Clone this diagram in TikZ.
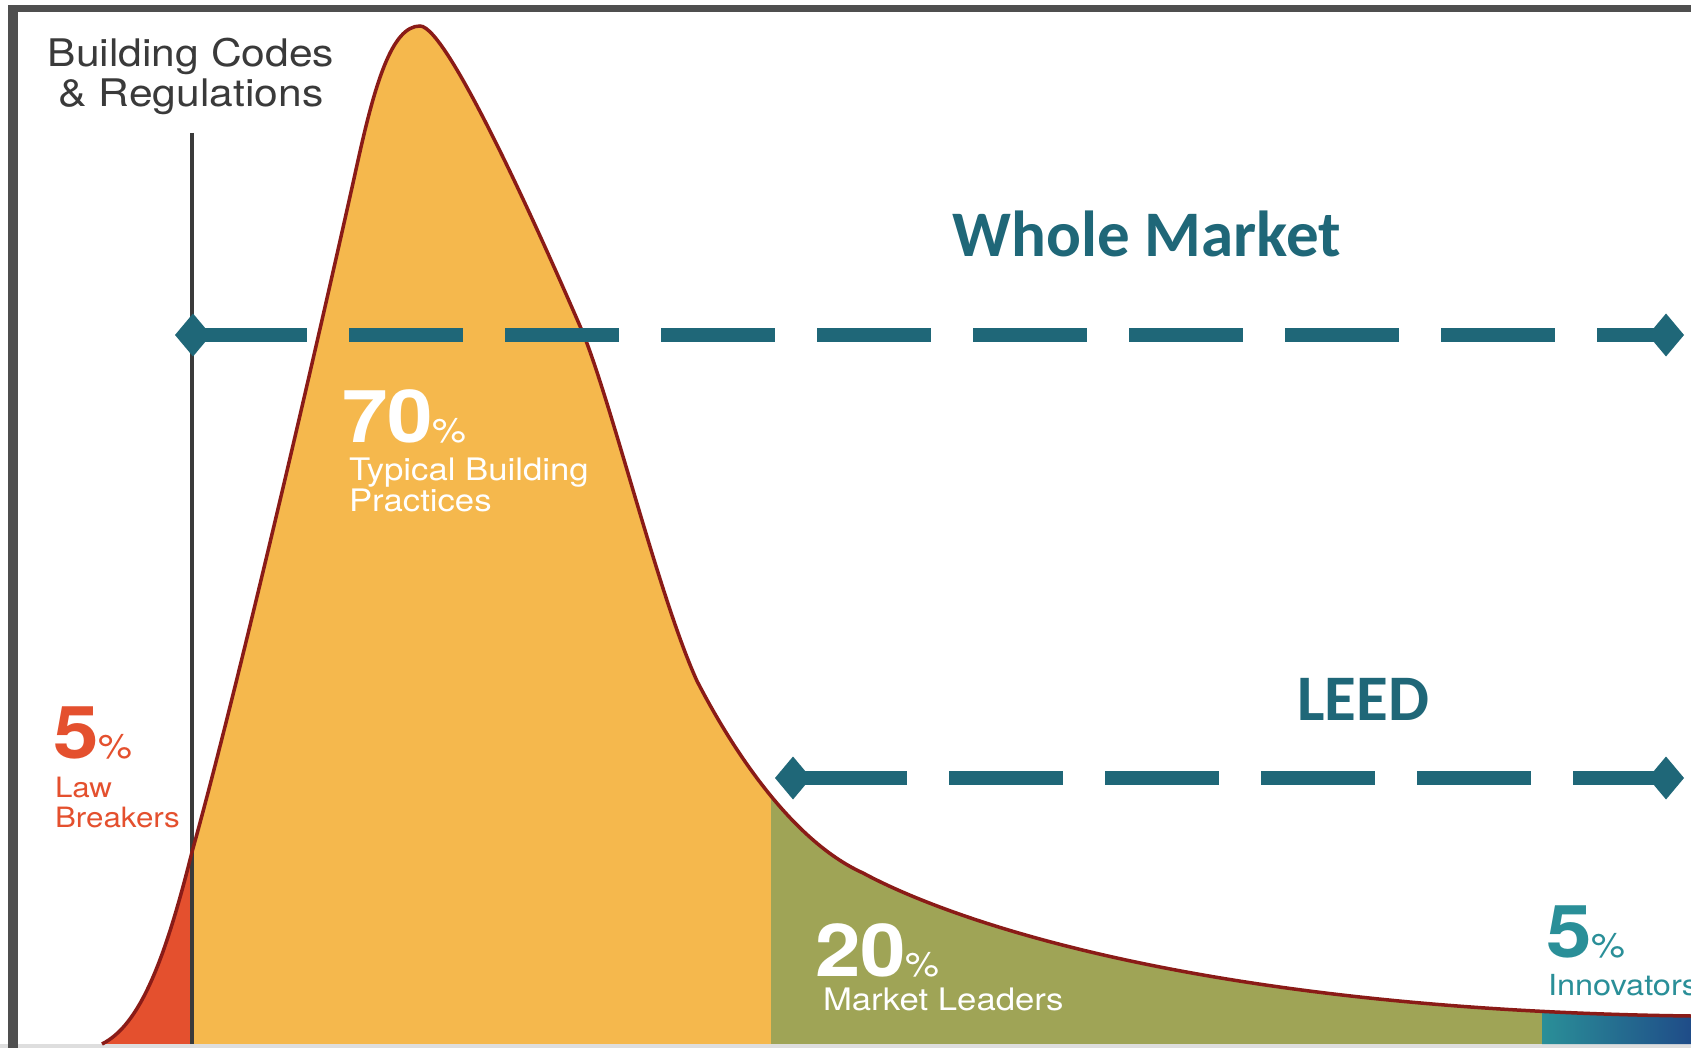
\documentclass[tikz,border=0pt]{standalone}
\usepackage{fontspec}
\setmainfont[FakeStretch=1.12]{TeX Gyre Heros}
\newfontfamily\headfont{Carlito}
\usetikzlibrary{shapes.geometric,positioning}

\definecolor{framegray}{HTML}{4F4F4F}
\definecolor{codegray}{HTML}{3A3A3A}
\definecolor{lawred}{HTML}{E4502E}
\definecolor{typorange}{HTML}{F5B84D}
\definecolor{leadgreen}{HTML}{9FA456}
\definecolor{innovteal}{HTML}{2A8F98}
\definecolor{innovblue}{HTML}{1F4C88}
\definecolor{curvered}{HTML}{8A1B17}
\definecolor{markteal}{HTML}{1F6778}

\newcommand{\pct}{{\fontsize{34}{34}\selectfont\mdseries\%}}
% the bell curve, left foot to right edge
\newcommand{\bellcurve}{(102,1044)
    .. controls (140,1025) and (165,960) .. (192,852)
    .. controls (240,680) and (325,310) .. (357,165)
    .. controls (375,83) and (392,26) .. (420,26)
    .. controls (448,26) and (545,245) .. (583,333)
    .. controls (613,408) and (660,600) .. (697,681)
    .. controls (730,745) and (790,840) .. (863,873)
    .. controls (950,920) and (1200,1010) .. (1691,1016)}

\begin{document}
\begin{tikzpicture}[x=1pt,y=-1pt,
    bignum/.style={anchor=base west, font=\fontsize{73}{73}\selectfont\bfseries},
    caption/.style={anchor=base west, align=left, font=\fontsize{31}{28}\selectfont},
    tipdiamond/.style={diamond, fill=markteal, minimum width=36pt, minimum height=43pt},
    dashline/.style={markteal, line width=14pt, dash pattern=on 114pt off 42pt},
    heading/.style={font=\headfont\bfseries\fontsize{65}{65}\selectfont, text=markteal}]
    \tikzstyle{every node}=[inner sep=0pt, outer sep=0pt]
    \path[use as bounding box, clip] (0,0) rectangle (1691,1048);
    \fill[white] (0,0) rectangle (1691,1048);
    \fill[black!13] (0,1044) rectangle (1691,1048);
    % frame
    \fill[framegray] (8,5) rectangle (1691,12);
    \fill[framegray] (8,5) rectangle (18,1048);
    % areas under the curve
    \begin{scope}
        \clip \bellcurve -- (1691,1044) -- (102,1044) -- cycle;
        \fill[lawred] (0,0) rectangle (192,1044);
        \fill[typorange] (192,0) rectangle (771,1044);
        \fill[leadgreen] (771,0) rectangle (1542,1044);
        \shade[left color=innovteal, right color=innovblue] (1542,0) rectangle (1691,1044);
    \end{scope}
    \coordinate (codetop) at (192,133);
    \coordinate (codebase) at (192,1044);
    \draw[codegray, line width=3.5pt] (codetop) -- (codebase);
    \draw[curvered, line width=3.5pt] \bellcurve;
    % market spans
    \coordinate (wholeL) at (193,335);
    \coordinate (wholeR) at (1666,335);
    \coordinate (leedL) at (793,778);
    \coordinate (leedR) at (1666,778);
    \draw[dashline] (wholeL) -- (wholeR);
    \draw[dashline] (leedL) -- (leedR);
    \node[tipdiamond] at (wholeL) {};
    \node[tipdiamond] at (wholeR) {};
    \node[tipdiamond] at (leedL) {};
    \node[tipdiamond] at (leedR) {};
    \node[heading, anchor=base] (whole) at (1147,257) {Whole Market};
    \node[heading, anchor=base] (leed) at (1363,720) {LEED};
    % labels
    \node[anchor=base, align=center, text=codegray,
        font=\fontsize{38}{40}\selectfont] (codes) at (191,107) {Building Codes\\\& Regulations};
    \node[bignum, text=lawred] (lawnum) at (53,758) {5\pct};
    \node[caption, text=lawred, font=\fontsize{28}{30}\selectfont] (lawtxt) at (55,827) {Law\\Breakers};
    \node[bignum, text=white] (typnum) at (342,442) {70\pct};
    \node[caption, text=white] (typtxt) at (349,511) {Typical Building\\Practices};
    \node[bignum, text=white] (leadnum) at (815,976) {20\pct};
    \node[caption, text=white] (leadtxt) at (823,1010) {Market Leaders};
    \node[bignum, text=innovteal] (innnum) at (1546,957) {5\pct};
    \node[caption, text=innovteal, font=\fontsize{29}{29}\selectfont] (inntxt) at (1548,995) {Innovators};
\end{tikzpicture}
\end{document}
